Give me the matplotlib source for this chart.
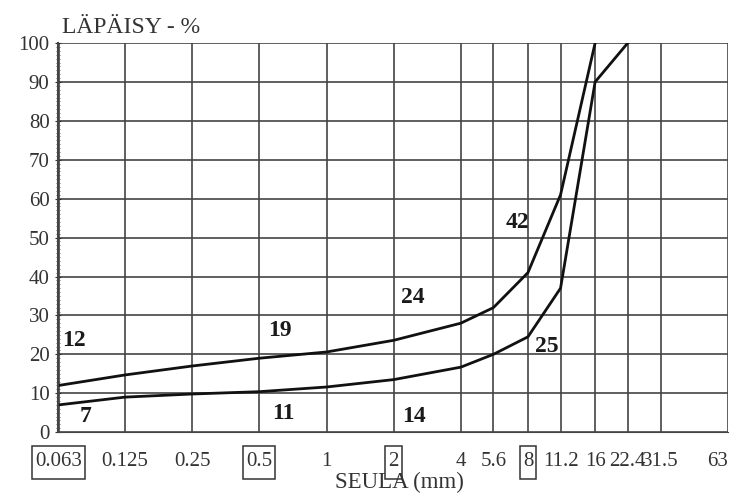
import numpy as np
import matplotlib.pyplot as plt
from matplotlib.ticker import FixedLocator, MultipleLocator
from matplotlib.patches import Rectangle

# seulakoot (mm) ja läpäisyprosentit
sieves = [0.063, 0.125, 0.25, 0.5, 1, 2, 4, 5.6, 8, 11.2, 16, 22.4, 31.5, 63]
tick_labels = ["0.063", "0.125", "0.25", "0.5", "1", "2", "4", "5.6", "8",
               "11.2", "16", "22.4", "31.5", "63"]
boxed = ["0.063", "0.5", "2", "8"]

upper_x = [0.063, 0.125, 0.25, 0.5, 1, 2, 4, 5.6, 8, 11.2, 16]
upper_y = [12, 14.7, 17, 19, 20.6, 23.6, 28, 32, 41, 61, 100]
lower_x = [0.063, 0.125, 0.25, 0.5, 1, 2, 4, 5.6, 8, 11.2, 16, 22.4]
lower_y = [7, 9, 9.8, 10.4, 11.6, 13.5, 16.7, 20, 24.5, 37, 90, 100]

# arvomerkinnät käyrillä
note_text = ["12", "19", "24", "42", "7", "11", "14", "25"]
note_x = [0.074, 0.62, 2.43, 7.16, 0.083, 0.64, 2.46, 9.7]
note_y = [23.6, 26.2, 34.7, 54, 4.1, 4.9, 4.1, 22]

plt.rcParams['font.family'] = ['Liberation Serif', 'DejaVu Serif']

fig = plt.figure(figsize=(7.33, 4.95), dpi=100)
ax = fig.add_axes([0.079, 0.127, 0.914, 0.786])

ax.set_xscale('log', base=2)
ax.set_xlim(0.0625, 63)
ax.set_ylim(0, 100)

ax.plot(upper_x, upper_y, color='#111111', lw=2)
ax.plot(lower_x, lower_y, color='#111111', lw=2)

for t, x, y in zip(note_text, note_x, note_y):
    ax.text(x, y, t, fontsize=17, fontweight='bold', ha='center', va='center',
            color='#1a1a1a')

ax.xaxis.set_major_locator(FixedLocator(sieves))
ax.xaxis.set_minor_locator(FixedLocator([]))
ax.set_xticklabels(tick_labels)
ax.yaxis.set_major_locator(MultipleLocator(10))
ax.yaxis.set_minor_locator(MultipleLocator(1))

ax.grid(True, which='major', color='#444444', lw=1.2)
ax.tick_params(axis='x', length=0, labelsize=15, pad=14, colors='#333333')
ax.tick_params(axis='y', which='major', length=4, direction='inout',
               labelsize=15, colors='#333333', pad=4)
ax.tick_params(axis='y', which='minor', length=3, direction='inout',
               color='#555555')

xlabs = ax.get_xticklabels()
xlabs[-1].set_horizontalalignment('right')

for s in ['top', 'right']:
    ax.spines[s].set_visible(False)
ax.spines['bottom'].set_color('#444444')
ax.spines['left'].set_color('#444444')
ax.spines['left'].set_linewidth(1.5)

fig.text(0.085, 0.945, "LÄPÄISY - %", fontsize=17, color='#333333',
         ha='left', va='center')
fig.text(0.545, 0.026, "SEULA (mm)", fontsize=16.5, color='#333333',
         ha='center', va='center')

# laatikot korostettujen seulojen ympärille
fig.canvas.draw()
for lab in ax.get_xticklabels():
    if lab.get_text() in boxed:
        bb = lab.get_window_extent()
        fig.patches.append(Rectangle((bb.x0 - 3, bb.y0 - 8), bb.width + 6,
                                     bb.height + 14, transform=None,
                                     fill=False, edgecolor='#333333', lw=1.1))

fig.savefig("out.png", dpi=100)
